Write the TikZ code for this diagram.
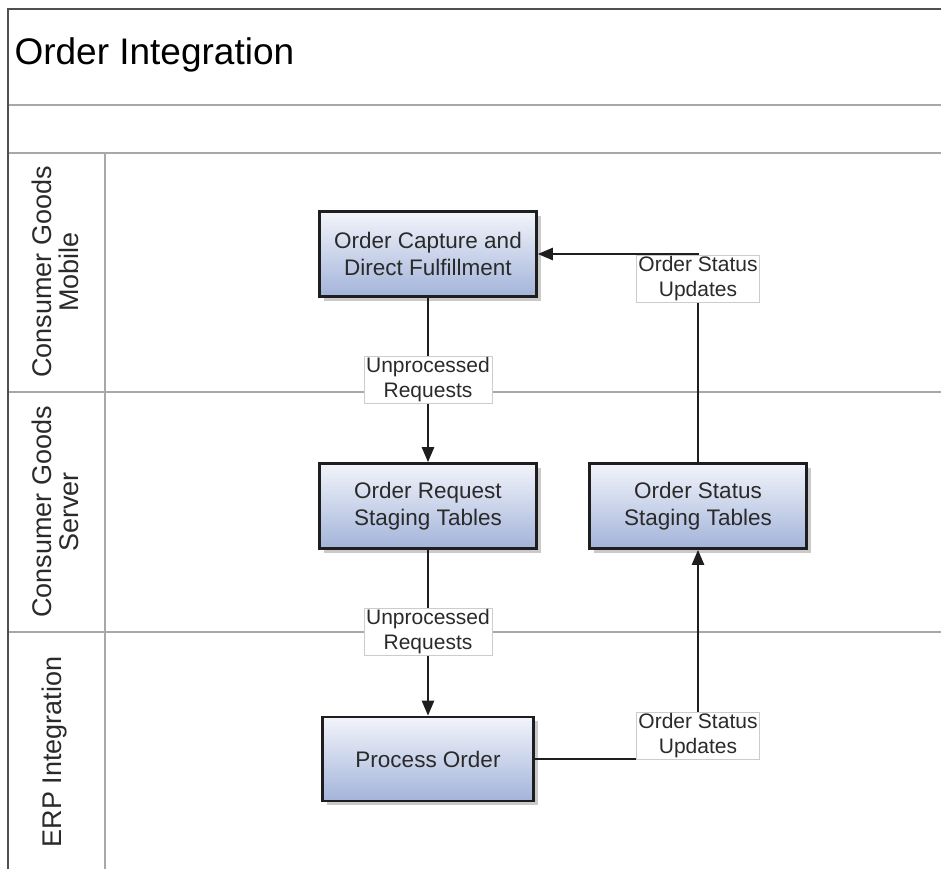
\documentclass[tikz,border=0pt]{standalone}
\usepackage{fontspec}
\setmainfont{Liberation Sans}
\usetikzlibrary{arrows.meta,shadows}

\definecolor{framegray}{HTML}{505050}
\definecolor{lanegray}{HTML}{A8A8A8}
\definecolor{boxtop}{HTML}{F2F4FA}
\definecolor{boxbottom}{HTML}{A3B4DA}
\definecolor{ink}{HTML}{1E1E1E}
\definecolor{txt}{HTML}{2A2A2A}
\definecolor{lblborder}{HTML}{CCCCCC}

\tikzset{
  frameline/.style={draw=framegray, line width=1.8pt},
  laneline/.style={draw=lanegray, line width=1.8pt},
  procbox/.style={rectangle, draw=ink, line width=2.6pt,
    top color=boxtop, bottom color=boxbottom,
    minimum width=217pt, minimum height=85pt, align=center,
    text=txt, font=\fontsize{22.5}{27}\selectfont,
    drop shadow={shadow xshift=4pt, shadow yshift=-4pt, fill=black!35, opacity=0.6}},
  conn/.style={draw=ink, line width=2.4pt,
    -{Triangle[length=15pt, width=12pt]}},
  lbl/.style={rectangle, fill=white, draw=lblborder, line width=0.6pt,
    align=center, text=txt, inner xsep=2pt, inner ysep=1.5pt,
    font=\fontsize{21}{25}\selectfont},
  lanelabel/.style={rotate=90, align=center, text=txt,
    font=\fontsize{27}{27}\selectfont},
}

\begin{document}
\begin{tikzpicture}[x=1pt, y=-1pt]
\useasboundingbox (0,0) rectangle (941,869);

% pool frame and lane grid
\draw[laneline] (8,105) -- (941,105);
\draw[laneline] (8,153) -- (941,153);
\draw[laneline] (8,392) -- (941,392);
\draw[laneline] (8,632) -- (941,632);
\draw[laneline] (105,153) -- (105,869);
\draw[frameline] (8,869) -- (8,9) -- (941,9);

% pool title
\node[anchor=west, text=black, font=\fontsize{37}{39}\selectfont] (title) at (11,55) {Order Integration};

% lane labels
\node[lanelabel] (laneA) at (55,272) {Consumer Goods\\Mobile};
\node[lanelabel] (laneB) at (55,512) {Consumer Goods\\Server};
\node[lanelabel] (laneC) at (55,752) {ERP Integration};

% process boxes
\node[procbox] (oc) at (428,254) {Order Capture and\\Direct Fulfillment};
\node[procbox] (ors) at (428,506) {Order Request\\Staging Tables};
\node[procbox] (oss) at (698,506) {Order Status\\Staging Tables};
\node[procbox, minimum width=211pt, minimum height=84pt] (po) at (428,759) {Process Order};

% connectors
\draw[conn] (oc.south) -- (ors.north);
\draw[conn] (ors.south) -- (po.north);
\draw[conn] (po.east) -| (oss.south);
\draw[conn] (oss.north) |- (oc.east);

% connector labels
\node[lbl] (l1) at (428,380) {Unprocessed\\Requests};
\node[lbl] (l2) at (428,632) {Unprocessed\\Requests};
\node[lbl] (l3) at (698,736) {Order Status\\Updates};
\node[lbl] (l4) at (698,279) {Order Status\\Updates};
\end{tikzpicture}
\end{document}
